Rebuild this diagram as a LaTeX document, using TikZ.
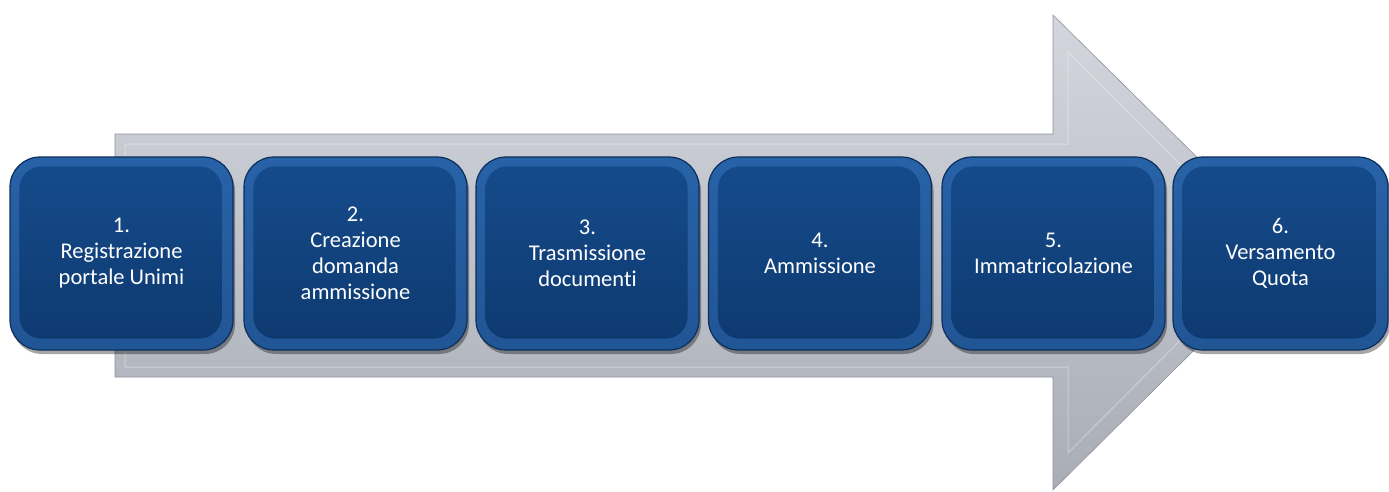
\documentclass[tikz,border=0pt]{standalone}
\usepackage{fontspec}
\setmainfont[RawFeature={-liga;-dlig}]{Carlito}
\usetikzlibrary{shadows}
\definecolor{arrowtop}{HTML}{D3D6DD}
\definecolor{arrowbot}{HTML}{A9ADB6}
\definecolor{boxedge}{HTML}{0B2E5A}
\definecolor{boxrim}{HTML}{3471BA}
\definecolor{boxtop}{HTML}{154B8B}
\definecolor{boxbot}{HTML}{0E3A70}
\tikzset{
  stepbox/.style={rounded corners=30pt, draw=boxedge, line width=1.2pt,
    top color=boxrim!60!boxtop, bottom color=boxrim!50!boxbot,
    minimum height=193pt, inner sep=0pt,
    drop shadow={shadow xshift=2pt, shadow yshift=-4pt, opacity=0.35, fill=black}},
  stepinner/.style={rounded corners=22pt, top color=boxtop, bottom color=boxbot},
  steptext/.style={text=white, align=center, font=\fontsize{22.5}{26}\selectfont, inner sep=0pt},
  bigarrow/.style={top color=arrowtop, bottom color=arrowbot, draw=arrowbot!85!black, line width=0.6pt},
  bevel/.style={draw=white, opacity=0.35, line width=1pt}
}
\begin{document}
\begin{tikzpicture}[x=1pt,y=-1pt]
\useasboundingbox (0,0) rectangle (1389,491);
\fill[white] (0,0) rectangle (1389,491);
% big arrow
\path[bigarrow] (115,134) -- (1053,134) -- (1053,15) -- (1293,252) -- (1053,490) -- (1053,377) -- (115,377) -- cycle;
\draw[bevel] (125,144) -- (1068,144) -- (1068,52) -- (1268,252) -- (1068,453) -- (1068,367) -- (125,367) -- cycle;
% step boxes
\foreach \n/\x/\w/\t in {
  s1/121.5/223/{1.\\Registrazione\\portale Unimi},
  s2/355.5/223/{2.\\Creazione\\domanda\\ammissione},
  s3/587.5/223/{3.\\Trasmissione\\documenti},
  s4/820/223/{4.\\Ammissione},
  s5/1053.5/223/{5.\\Immatricolazione},
  s6/1280.5/215/{6.\\Versamento\\Quota}}{
  \node[stepbox, minimum width=\w pt] (\n) at (\x,253.5) {};
  \path[stepinner] ([shift={(10,10)}]\n.north west) rectangle ([shift={(-12,-12)}]\n.south east);
  \node[steptext] (\n t) at (\n) {\t};
}
\end{tikzpicture}
\end{document}
